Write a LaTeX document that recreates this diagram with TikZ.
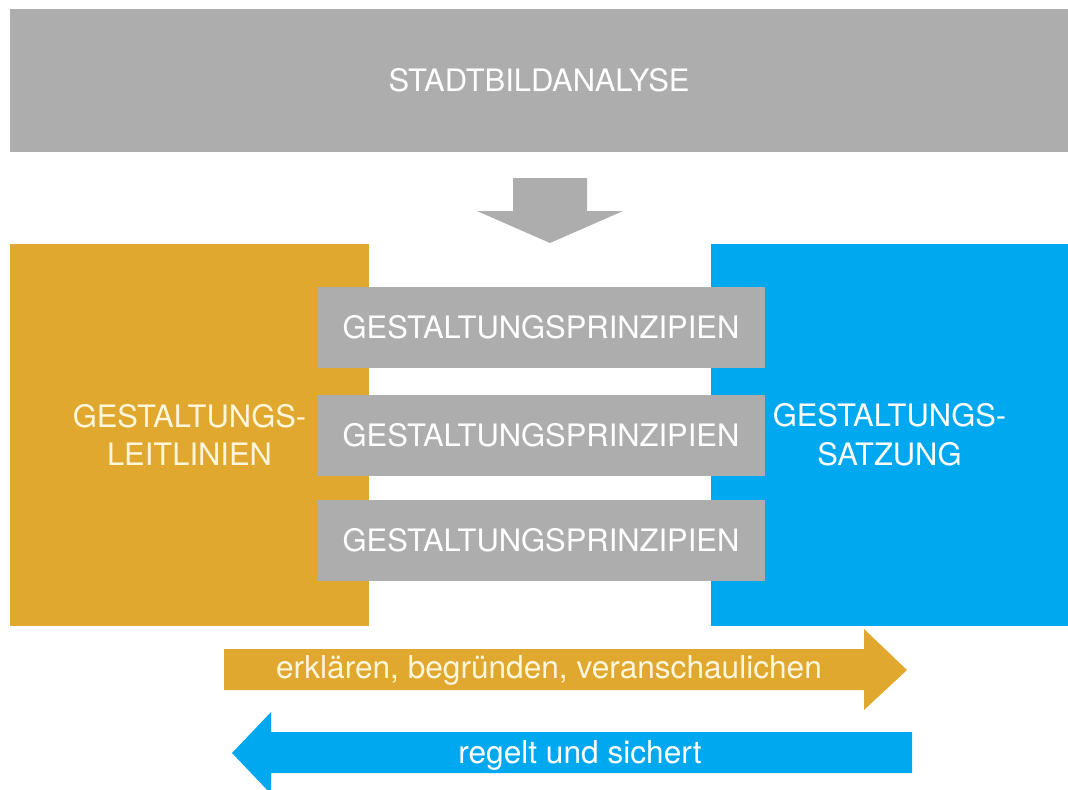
\documentclass[tikz,border=0pt]{standalone}
\usepackage{fontspec}
\setmainfont{TeX Gyre Heros}
\definecolor{grau}{HTML}{ADADAD}
\definecolor{gelb}{HTML}{E0A82E}
\definecolor{blau}{HTML}{00A8F0}
\definecolor{creme}{HTML}{FFF6DC}
\begin{document}
\begin{tikzpicture}[x=0.02cm, y=-0.02cm,
    kasten/.style={fill=#1, inner sep=0pt, outer sep=0pt},
    schrift/.style={text=white, font=\fontsize{17.6}{22}\selectfont},
    klein/.style={text=white, font=\fontsize{18}{22}\selectfont, anchor=base, inner sep=0pt},
    prinzip/.style={kasten=grau, schrift, minimum width=8.96cm, minimum height=1.62cm}]
  \useasboundingbox (0,0) rectangle (1068,789);
  \clip (0,0) rectangle (1068,789);
  \node[kasten=grau, schrift, minimum width=21.16cm, minimum height=2.86cm] (analyse) at (539,80.5) {STADTBILDANALYSE};
  \fill[grau] (513,178) -- (587,178) -- (587,211) -- (623,211) -- (550,243) -- (477,211) -- (513,211) -- cycle;
  \node[kasten=gelb, schrift, text=creme, align=center, minimum width=7.18cm, minimum height=7.64cm] (leitlinien) at (189.5,435) {GESTALTUNGS-\\LEITLINIEN};
  \node[kasten=blau, schrift, align=center, minimum width=7.14cm, minimum height=7.64cm] (satzung) at (889.5,435) {GESTALTUNGS-\\SATZUNG};
  \node[prinzip] (prinzip1) at (541,327) {GESTALTUNGSPRINZIPIEN};
  \node[prinzip] (prinzip2) at (541,435.5) {GESTALTUNGSPRINZIPIEN};
  \node[prinzip] (prinzip3) at (541,540.5) {GESTALTUNGSPRINZIPIEN};
  \fill[gelb] (224,649) -- (864,649) -- (864,629) -- (907,670) -- (864,710) -- (864,690) -- (224,690) -- cycle;
  \node[klein, text=creme] (erklaeren) at (549,678) {erklären, begründen, veranschaulichen};
  \fill[blau] (912,732) -- (271,732) -- (271,712) -- (232,753) -- (271,794) -- (271,773) -- (912,773) -- cycle;
  \node[klein] (regelt) at (580,763) {regelt und sichert};
\end{tikzpicture}
\end{document}
